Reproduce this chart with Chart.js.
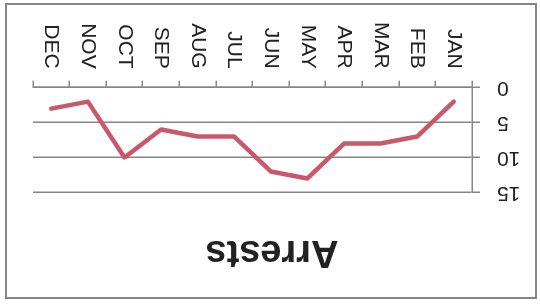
<!DOCTYPE html>
<html>
<head>
<meta charset="utf-8">
<script src="https://cdn.jsdelivr.net/npm/chart.js@4/dist/chart.umd.min.js"></script>
<style>
  html, body { margin: 0; padding: 0; background: #ffffff; }
  #wrap { position: absolute; left: 0; top: 0; width: 540px; height: 306px; transform: rotate(180deg); }
  #frame { position: absolute; left: 5px; top: 3px; width: 532px; height: 296px; box-sizing: border-box; border: 2px solid #858585; pointer-events: none; }
</style>
</head>
<body>
<div id="wrap"><canvas id="c" width="540" height="306"></canvas></div>
<div id="frame"></div>
<script>
const months = ["JAN", "FEB", "MAR", "APR", "MAY", "JUN", "JUL", "AUG", "SEP", "OCT", "NOV", "DEC"];
const arrests = [2, 7, 8, 8, 13, 12, 7, 7, 6, 10, 2, 3];
const yTicks = [0, 5, 10, 15];
const chartTitle = "Arrests";

const gridColor = "#858585";
const textColor = "#222222";

new Chart(document.getElementById("c"), {
  type: "line",
  data: {
    labels: months,
    datasets: [{
      label: chartTitle,
      data: arrests,
      borderColor: "#c9586b",
      borderWidth: 4.5,
      pointRadius: 0,
      tension: 0,
      borderJoinStyle: "round",
      borderCapStyle: "round",
      fill: false
    }]
  },
  options: {
    responsive: false,
    animation: false,
    devicePixelRatio: 1,
    layout: { padding: { left: 19, right: 23, top: 0, bottom: 10 } },
    plugins: {
      legend: { display: false },
      tooltip: { enabled: false },
      title: {
        display: true,
        text: chartTitle,
        color: textColor,
        font: { family: "'Liberation Sans', Arial, sans-serif", size: 38, weight: "bold" },
        padding: { top: 32, bottom: 36 }
      }
    },
    scales: {
      x: {
        type: "category",
        offset: true,
        grid: { display: true, drawOnChartArea: false, drawTicks: true, offset: true, tickLength: 7, color: gridColor, lineWidth: 1.5 },
        border: { display: true, color: gridColor, width: 1.5 },
        ticks: {
          color: textColor,
          font: { family: "'Liberation Sans', Arial, sans-serif", size: 21 },
          minRotation: 90, maxRotation: 90, padding: 12, autoSkip: false
        }
      },
      y: {
        min: 0, max: 15,
        afterBuildTicks: (scale) => { scale.ticks = yTicks.map(v => ({ value: v })); },
        afterFit: (scale) => { scale.width = 49; },
        grid: { color: gridColor, lineWidth: 1.5, tickLength: 8, drawTicks: true },
        border: { display: true, color: gridColor, width: 1.5 },
        ticks: {
          color: textColor,
          font: { family: "'Liberation Sans', Arial, sans-serif", size: 21 },
          padding: 17
        }
      },
      spacer: {
        position: "right",
        display: true,
        grid: { display: false, drawTicks: false },
        border: { display: false },
        ticks: { display: false },
        afterFit: (scale) => { scale.width = 10; }
      }
    }
  }
});
</script>
</body>
</html>
